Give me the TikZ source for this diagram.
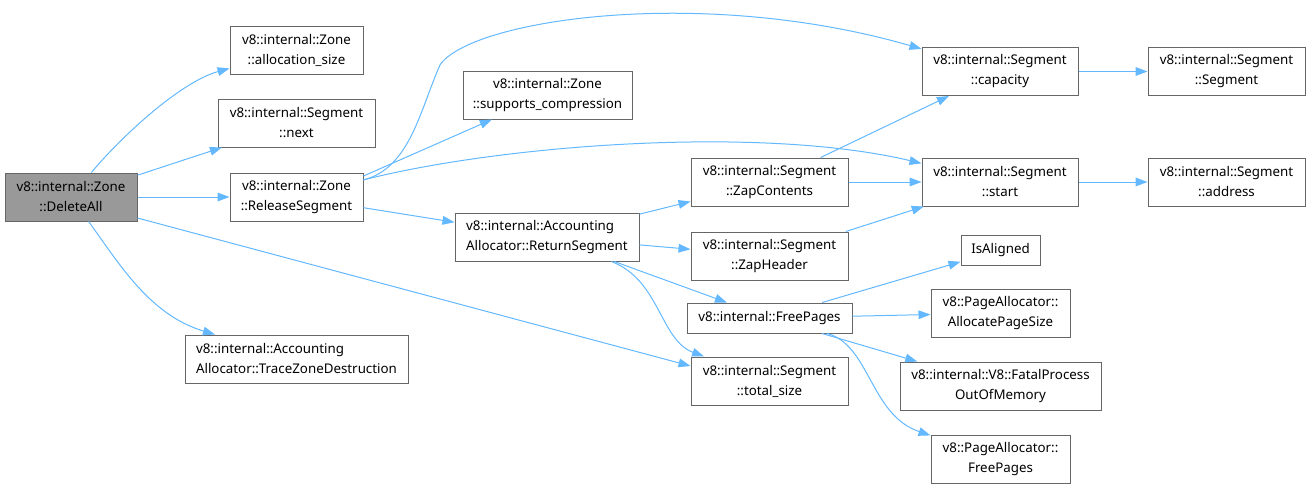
\documentclass[tikz,border=0pt]{standalone}
\usepackage{fontspec}
\setmainfont{Noto Sans}
\usetikzlibrary{arrows.meta}
\definecolor{edgeblue}{HTML}{63B8FF}
\definecolor{boxgray}{HTML}{666666}
\definecolor{rootgray}{HTML}{999999}

\begin{document}
\begin{tikzpicture}[x=0.75pt, y=-0.75pt,
  fn/.style={draw=boxgray, fill=white, line width=0.75pt, align=center,
    font=\fontsize{10}{15}\selectfont, minimum width=#1*0.75pt,
    minimum height=36pt, inner sep=0pt},
  fnone/.style={fn=#1, minimum height=22.5pt},
  call/.style={draw=edgeblue, line width=0.75pt,
    -{Triangle[length=9pt,width=6.5pt]}}]

% Fix the page size
\useasboundingbox (0,0) rectangle (1311,490);

% Draw the root function
\node[fn=132, fill=rootgray] (del) at (71,197) {v8::internal::Zone\\::DeleteAll};

% Draw first level callees
\node[fn=133] (alloc) at (296.5,50) {v8::internal::Zone\\::allocation\_size};
\node[fn=157] (next) at (296.5,123) {v8::internal::Segment\\::next};
\node[fn=133] (rel) at (296.5,197) {v8::internal::Zone\\::ReleaseSegment};
\node[fn=223, align=left] (trace) at (296.5,359) {v8::internal::Accounting\\Allocator::TraceZoneDestruction};

% Draw second level callees
\node[fn=169] (comp) at (547.5,95) {v8::internal::Zone\\::supports\_compression};
\node[fn=184, align=left] (ret) at (547,237) {v8::internal::Accounting\\Allocator::ReturnSegment};

% Draw third level callees
\node[fn=157] (zapc) at (769.5,182) {v8::internal::Segment\\::ZapContents};
\node[fn=157] (zaph) at (769.5,256) {v8::internal::Segment\\::ZapHeader};
\node[fnone=165] (free) at (769.5,318) {v8::internal::FreePages};
\node[fn=157] (total) at (769.5,381) {v8::internal::Segment\\::total\_size};

% Draw fourth level callees
\node[fn=156] (cap) at (1000,71.5) {v8::internal::Segment\\::capacity};
\node[fn=156] (start) at (1000,182) {v8::internal::Segment\\::start};
\node[fnone=79] (aligned) at (1000.5,250) {IsAligned};
\node[fn=139] (pagesize) at (1000.5,313) {v8::PageAllocator::\\AllocatePageSize};
\node[fn=201] (oom) at (1000.5,386) {v8::internal::V8::FatalProcess\\OutOfMemory};
\node[fn=139] (pafree) at (1000.5,459) {v8::PageAllocator::\\FreePages};

% Draw last level callees
\node[fn=157] (seg) at (1226.5,71.5) {v8::internal::Segment\\::Segment};
\node[fn=157] (addr) at (1226.5,182) {v8::internal::Segment\\::address};

% Calls from DeleteAll
\draw[call] (del) .. controls (120,138) and (180,82) .. (alloc);
\draw[call] (del) -- (next);
\draw[call] (del) -- (rel);
\draw[call] (del) .. controls (120,265) and (150,315) .. (trace);
\draw[call] ([yshift=-15.75pt]del.east) -- ([yshift=11.25pt]total.west);

% Calls from ReleaseSegment
\draw[call] (rel) .. controls (410,168) and (420,110) .. (440,65)
  .. controls (470,20) and (700,-15) .. (cap);
\draw[call] ([yshift=15.75pt]rel.east) -- (comp);
\draw[call] (rel) .. controls (500,145) and (760,125) .. (start);
\draw[call] (rel) -- (ret);

% Calls from ReturnSegment
\draw[call] (ret) -- (zapc);
\draw[call] (ret) -- (zaph);
\draw[call] (ret) -- (free);
\draw[call] (ret) .. controls (660,280) and (660,340) .. (total);

% Calls from the segment helpers
\draw[call] (zapc) -- (cap);
\draw[call] (zapc) -- (start);
\draw[call] (zaph) -- (start);
\draw[call] (cap) -- (seg);
\draw[call] (start) -- (addr);

% Calls from FreePages
\draw[call] (free) -- (aligned);
\draw[call] (free) -- (pagesize);
\draw[call] (free) -- (oom);
\draw[call] (free) .. controls (870,345) and (870,415) .. (pafree);

\end{tikzpicture}
\end{document}
